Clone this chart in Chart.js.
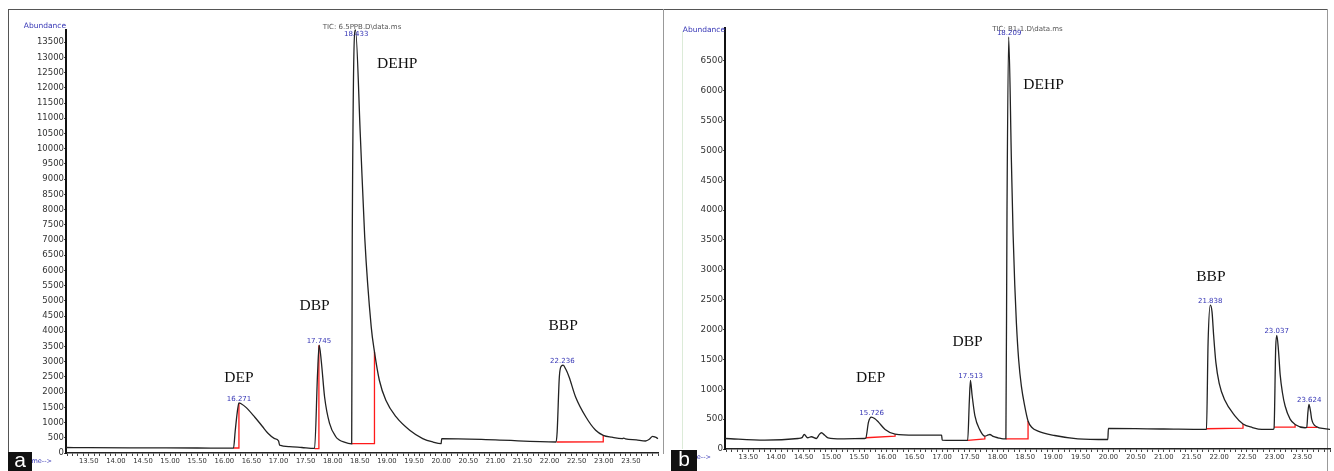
<!DOCTYPE html>
<html>
<head>
<meta charset="utf-8">
<script src="https://cdn.jsdelivr.net/npm/chart.js@4.4.1/dist/chart.umd.min.js"></script>
<style>
html, body { margin: 0; padding: 0; background: #fff; }
body { width: 1334px; height: 471px; position: relative; overflow: hidden; }
canvas { position: absolute; top: 0; }
#chartA { left: 0; }
#chartB { left: 665px; }
.line { position: absolute; background: #555; }
.tag { position: absolute; background: #111; color: #fff; font-family: 'Liberation Sans', sans-serif; font-size: 21px; text-align: center; }
</style>
</head>
<body>
<div class="line" style="left:8px;top:9px;width:1320px;height:1px"></div>
<div class="line" style="left:8px;top:9px;width:1px;height:462px"></div>
<div class="line" style="left:663px;top:9px;width:1px;height:445px;background:#999"></div>
<div class="line" style="left:1327px;top:9px;width:1px;height:462px;background:#999"></div>
<div class="line" style="left:682px;top:31px;width:1px;height:418px;background:#dcebd8"></div>
<canvas id="chartA" width="665" height="471"></canvas>
<canvas id="chartB" width="669" height="471"></canvas>
<div class="tag" style="left:8px;top:452px;width:24px;height:19px;line-height:15px">a</div>
<div class="tag" style="left:671px;top:450px;width:26px;height:21px;line-height:18px">b</div>
<script>
// Retention time axis (min)
const xMin = 13.08;
const xMax = 24.0;
const xLabels = ['13.50', '14.00', '14.50', '15.00', '15.50', '16.00', '16.50', '17.00', '17.50', '18.00',
                 '18.50', '19.00', '19.50', '20.00', '20.50', '21.00', '21.50', '22.00', '22.50', '23.00', '23.50'];

// Panel a: 6.5 ppb standard
const yTicksA = [0, 500, 1000, 1500, 2000, 2500, 3000, 3500, 4000, 4500, 5000, 5500, 6000, 6500,
                 7000, 7500, 8000, 8500, 9000, 9500, 10000, 10500, 11000, 11500, 12000, 12500, 13000, 13500];
const timeA = [13.08, 13.5, 14.5, 15.5, 16.17, 16.20, 16.24, 16.27, 16.31, 16.40, 16.56, 16.70, 16.81, 16.92,
               17.00, 17.02, 17.20, 17.43, 17.665, 17.72, 17.75, 17.79, 17.85, 17.94, 18.06, 18.12, 18.20,
               18.35, 18.36, 18.42, 18.51, 18.59, 18.71, 18.77, 18.86, 18.98, 19.17, 19.42, 19.66, 19.85,
               20.00, 20.01, 21.00, 22.12, 22.14, 22.18, 22.22, 22.25, 22.30, 22.36, 22.48, 22.67, 22.85,
               22.99, 23.15, 23.34, 23.37, 23.40, 23.60, 23.77, 23.84, 23.90, 23.95, 24.00];
const abundA = [180, 176, 170, 165, 160, 700, 1350, 1650, 1620, 1500, 1184, 880, 640, 480,
                400, 260, 210, 180, 150, 2600, 3540, 3000, 1840, 980, 526, 430, 362,
                300, 7000, 13900, 10400, 7100, 4145, 3322, 2391, 1734, 1184, 747, 474, 360,
                309, 474, 430, 362, 700, 2500, 2860, 2885, 2750, 2500, 1842, 1184, 747,
                582, 520, 474, 490, 465, 430, 395, 450, 549, 520, 474];
const redTimeA = [[16.17, 16.27, 16.27], [17.665, 17.745, 17.745], [18.35, 18.77, 18.77], [22.13, 22.99, 22.99]];
const redAbundA = [[165, 165, 1640], [145, 145, 3540], [309, 309, 3322], [362, 370, 582]];
const peakTimeA = [16.271, 17.745, 18.433, 22.236];
const peakAbundA = [1650, 3540, 13900, 2885];
const namesA = ['DEP', 'DBP', 'DEHP', 'BBP'];

// Panel b: sample B1-1
const yTicksB = [0, 500, 1000, 1500, 2000, 2500, 3000, 3500, 4000, 4500, 5000, 5500, 6000, 6500];
const timeB = [13.08, 13.80, 14.40, 14.47, 14.51, 14.57, 14.64, 14.73, 14.78, 14.82, 14.88, 14.94, 15.18,
               15.60, 15.62, 15.67, 15.72, 15.78, 15.85, 15.97, 16.15, 16.51, 16.99, 17.00, 17.41, 17.46,
               17.49, 17.51, 17.54, 17.59, 17.68, 17.77, 17.83, 17.86, 17.92, 18.01, 18.10, 18.15, 18.17,
               18.20, 18.25, 18.28, 18.31, 18.34, 18.38, 18.43, 18.49, 18.55, 18.62, 18.73, 19.03, 19.45,
               19.99, 20.00, 21.00, 21.74, 21.77, 21.80, 21.84, 21.87, 21.90, 21.94, 22.00, 22.10, 22.28,
               22.43, 22.60, 22.77, 22.97, 22.99, 23.02, 23.04, 23.07, 23.10, 23.14, 23.19, 23.28, 23.37,
               23.55, 23.58, 23.60, 23.62, 23.65, 23.67, 23.76, 23.90, 24.00];
const abundB = [176, 148, 176, 190, 243, 188, 205, 176, 240, 272, 230, 188, 171,
                176, 180, 450, 534, 510, 450, 327, 248, 232, 232, 148, 143, 143,
                800, 1149, 900, 560, 320, 215, 235, 243, 210, 188, 171, 171, 4000,
                6900, 4800, 3600, 2750, 2100, 1500, 1050, 720, 470, 360, 299, 226, 171,
                159, 344, 335, 327, 330, 1800, 2408, 2300, 1900, 1450, 1100, 820, 560,
                420, 360, 327, 327, 350, 1700, 1904, 1650, 1250, 950, 720, 500, 411,
                356, 360, 600, 747, 620, 495, 372, 340, 327];
const redTimeB = [[15.62, 16.15, 16.15], [17.46, 17.77, 17.77], [18.15, 18.55, 18.55],
                  [21.77, 22.43, 22.43], [22.99, 23.37, 23.37], [23.58, 23.76, 23.76]];
const redAbundB = [[188, 215, 248], [143, 171, 215], [171, 171, 470],
                   [339, 350, 420], [366, 366, 411], [361, 361, 372]];
const peakTimeB = [15.726, 17.513, 18.209, 21.838, 23.037, 23.624];
const peakAbundB = [534, 1149, 6900, 2408, 1904, 747];
const namesB = ['DEP', 'DBP', 'DEHP', 'BBP'];

// where the compound names sit (time, abundance of text baseline)
const nameSpotA = [[16.27, 2325], [17.665, 4694], [19.19, 12655], [22.25, 4036]];
const nameSpotB = [[15.71, 1116], [17.46, 1725], [18.83, 6030], [21.85, 2816]];

const BLUE = '#3535b5';
const SMALL = '"DejaVu Sans", sans-serif';

function toPoints(xs, ys) {
    return xs.map((t, i) => ({ x: t, y: ys[i] }));
}

// Text overlay: title, axis captions, retention times and compound names
const labelPlugin = {
    id: 'labels',
    afterDatasetsDraw(chart, args, o) {
        const ctx = chart.ctx;
        const a = chart.chartArea;
        const xs = chart.scales.x;
        const ys = chart.scales.y;
        ctx.save();

        ctx.font = '7px ' + SMALL;
        ctx.fillStyle = '#555';
        ctx.textAlign = 'center';
        ctx.textBaseline = 'middle';
        ctx.fillText(o.title, (a.left + a.right) / 2, a.top + o.titleDy);

        ctx.fillStyle = BLUE;
        ctx.font = '7.5px ' + SMALL;
        ctx.textAlign = 'right';
        ctx.fillText('Abundance', a.left, a.top + o.abDy);
        ctx.font = '6.5px ' + SMALL;
        ctx.fillText('Time-->', a.left - 14, a.bottom + 8);

        ctx.font = '7px ' + SMALL;
        ctx.textAlign = 'center';
        o.peakTime.forEach((t, i) => {
            const py = Math.max(ys.getPixelForValue(o.peakAbund[i]) - 4, a.top + 4);
            ctx.fillText(t.toFixed(3), xs.getPixelForValue(t), py);
        });

        ctx.fillStyle = '#111';
        ctx.font = '15.5px "Liberation Serif", serif';
        ctx.textBaseline = 'alphabetic';
        o.names.forEach((n, i) => {
            ctx.fillText(n, xs.getPixelForValue(o.spots[i][0]), ys.getPixelForValue(o.spots[i][1]));
        });
        ctx.restore();
    }
};

function makeChart(id, cfg) {
    const canvas = document.getElementById(id);
    const datasets = [{
        data: toPoints(cfg.time, cfg.abund),
        borderColor: '#222',
        borderWidth: 1.3,
        pointRadius: 0,
        cubicInterpolationMode: 'monotone',
        clip: 6
    }];
    cfg.redTime.forEach((seg, i) => {
        datasets.push({
            data: toPoints(seg, cfg.redAbund[i]),
            borderColor: '#ff1a1a',
            borderWidth: 1.3,
            pointRadius: 0,
            tension: 0
        });
    });

    const minorTicks = [];
    for (let v = 131; v <= 240; v++) minorTicks.push(v / 10);

    return new Chart(canvas, {
        type: 'scatter',
        data: { datasets: datasets },
        plugins: [labelPlugin],
        options: {
            responsive: false,
            animation: false,
            devicePixelRatio: 1,
            showLine: true,
            layout: { padding: { left: 0, right: cfg.padRight, top: cfg.top, bottom: 0 } },
            plugins: {
                legend: { display: false },
                tooltip: { enabled: false },
                labels: {
                    title: cfg.title, titleDy: cfg.titleDy, abDy: cfg.abDy,
                    peakTime: cfg.peakTime, peakAbund: cfg.peakAbund,
                    names: cfg.names, spots: cfg.spots
                }
            },
            scales: {
                x: {
                    type: 'linear',
                    min: xMin,
                    max: xMax,
                    afterBuildTicks: s => { s.ticks = minorTicks.map(v => ({ value: v })); },
                    afterFit: s => { s.height = canvas.height - cfg.bottom; },
                    ticks: {
                        autoSkip: false,
                        maxRotation: 0,
                        padding: 1,
                        color: '#333',
                        font: { family: SMALL, size: 6.8 },
                        callback: v => {
                            const s = v.toFixed(2);
                            return xLabels.includes(s) ? s : '';
                        }
                    },
                    grid: { drawOnChartArea: false, drawTicks: true, tickLength: 3, color: '#444', lineWidth: 1 },
                    border: { color: '#222', width: 1.5 }
                },
                y: {
                    min: 0,
                    max: cfg.yMax,
                    afterBuildTicks: s => { s.ticks = cfg.yTicks.map(v => ({ value: v })); },
                    afterFit: s => { s.width = cfg.left; },
                    ticks: {
                        padding: 0,
                        color: '#333',
                        font: { family: SMALL, size: cfg.yFont },
                        callback: v => String(v)
                    },
                    grid: { drawOnChartArea: false, drawTicks: true, tickLength: 2, color: '#444' },
                    border: { color: '#111', width: 2 }
                }
            }
        }
    });
}

makeChart('chartA', {
    time: timeA, abund: abundA, redTime: redTimeA, redAbund: redAbundA,
    peakTime: peakTimeA, peakAbund: peakAbundA, names: namesA, spots: nameSpotA,
    yTicks: yTicksA, yMax: 13900, yFont: 8.5,
    title: 'TIC: 6.5PPB.D\\data.ms', titleDy: -3, abDy: -4,
    left: 66, padRight: 7, top: 30, bottom: 453
});

makeChart('chartB', {
    time: timeB, abund: abundB, redTime: redTimeB, redAbund: redAbundB,
    peakTime: peakTimeB, peakAbund: peakAbundB, names: namesB, spots: nameSpotB,
    yTicks: yTicksB, yMax: 7050, yFont: 8.8,
    title: 'TIC: B1-1.D\\data.ms', titleDy: 1, abDy: 2,
    left: 60, padRight: 4, top: 28, bottom: 449
});
</script>
</body>
</html>
